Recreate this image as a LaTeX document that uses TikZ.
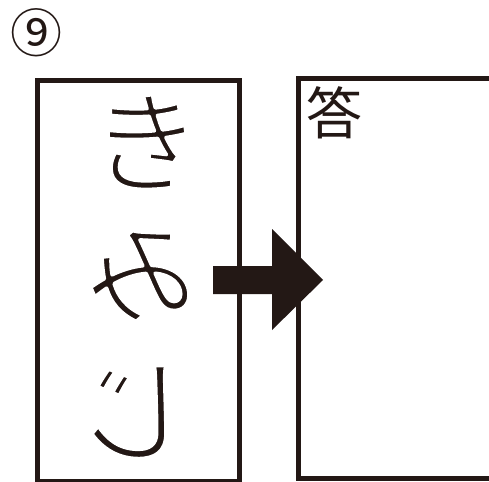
\documentclass[tikz,border=0pt]{standalone}
\usepackage{fontspec}
\newfontfamily\jp{Noto Sans CJK JP}
\definecolor{ink}{HTML}{231815}
\newcommand{\thinglyph}[1]{\special{pdf:literal 2 Tr 1 1 1 RG 3.5 w 1 j}#1\special{pdf:literal 0 Tr}}
\tikzset{
  frame/.style={draw=ink, line width=5pt},
  kana/.style={inner sep=0pt, font=\jp\fontsize{112}{112}\selectfont, text=ink},
  label/.style={inner sep=0pt, font=\jp\fontsize{56}{56}\selectfont, text=ink},
  bigarrow/.style={fill=ink, draw=none}
}
\begin{document}
\begin{tikzpicture}[x=1pt,y=-1pt]
\useasboundingbox (0,0) rectangle (489,481);
\fill[white] (0,0) rectangle (489,481);
% number
\node[inner sep=0pt, font=\jp\fontsize{52}{52}\selectfont, text=ink] (num) at (36,33) {⑨};
% left box
\node[frame, inner sep=0pt, minimum width=202pt, minimum height=400pt, anchor=north west] (q) at (34.5,78.5) {};
% right box (open on the right)
\coordinate (rtop) at (492,78.5);
\coordinate (rbot) at (492,478.5);
\draw[frame] (rtop) -- (298.5,78.5) coordinate (a) -- (298.5,478.5) coordinate (ans) -- (rbot);
% answer label
\node[label, anchor=north west] (kotae) at (306,86) {答};
% characters
\node[kana] (c1) at (146,142) {\thinglyph{き}};
\node[kana] (c2) at (141,276) {\scalebox{-1}[1]{\thinglyph{み}}};
\node[kana] (c3) at (135,412) {\scalebox{-1}[1]{\thinglyph{じ}}};
% arrow
\fill[bigarrow] (213,266) -- (272,266) -- (272,229) -- (323,280) -- (272,330) -- (272,294) -- (213,294) -- cycle;
\end{tikzpicture}
\end{document}
